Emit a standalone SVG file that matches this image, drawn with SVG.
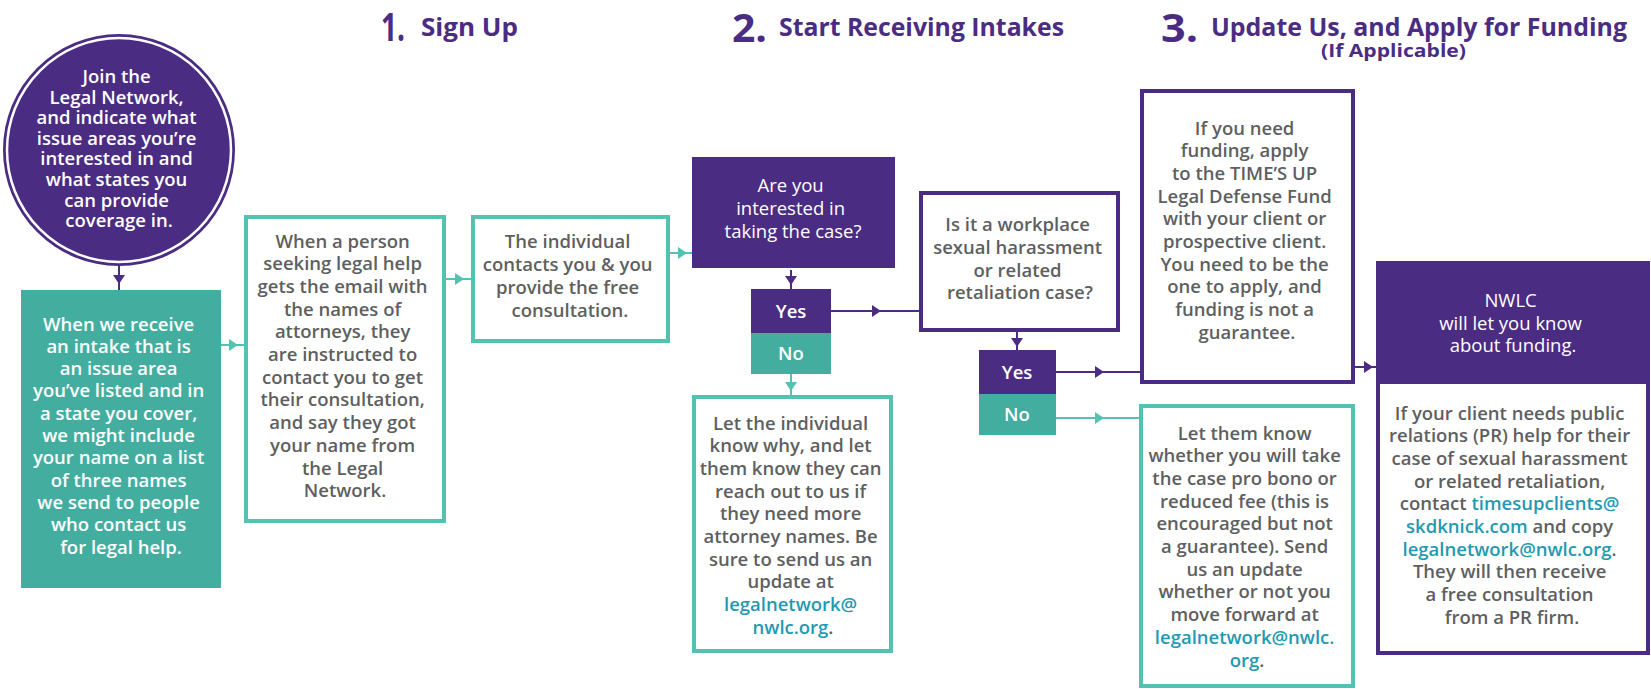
<svg xmlns="http://www.w3.org/2000/svg" xmlns:xlink="http://www.w3.org/1999/xlink" width="1651" height="689" viewBox="0 0 1651 689">
<style>
.t{font-family:'Open Sans','Liberation Sans',sans-serif;font-weight:600;font-size:18.5px;text-anchor:middle}
.r{font-weight:400}
.g{fill:#5e5f61}
.w{fill:#ffffff}
.l{fill:#1f9ab2}
.h{font-family:'Open Sans','Liberation Sans',sans-serif;font-weight:700;fill:#4b2c83}
.pf{fill:#4b2c83}
.tf{fill:#43ae9f}
.po{fill:#fff;stroke:#4b2c83;stroke-width:4}
.to{fill:#fff;stroke:#55c1b1;stroke-width:4}
.cp{stroke:#4b2c83;stroke-width:2;fill:none}
.ct{stroke:#55c1b1;stroke-width:2;fill:none}
.ap{fill:#4b2c83}
.at{fill:#55c1b1}
</style>
<defs>
<path id="ah" d="M-4,-6 L5,0 L-4,6 Z"/>
</defs>
<rect width="1651" height="689" fill="#fff"/>

<g id="headings">
<text class="h" x="381" y="41" font-size="40" textLength="24" lengthAdjust="spacingAndGlyphs">1.</text>
<text class="h" x="421" y="36" font-size="25" textLength="97" lengthAdjust="spacingAndGlyphs">Sign Up</text>
<text class="h" x="732" y="42" font-size="40" textLength="35" lengthAdjust="spacingAndGlyphs">2.</text>
<text class="h" x="779" y="36" font-size="25" textLength="285" lengthAdjust="spacingAndGlyphs">Start Receiving Intakes</text>
<text class="h" x="1161" y="42" font-size="40" textLength="37" lengthAdjust="spacingAndGlyphs">3.</text>
<text class="h" x="1211" y="36" font-size="25" textLength="416" lengthAdjust="spacingAndGlyphs">Update Us, and Apply for Funding</text>
<text class="h" x="1321" y="57" font-size="17" textLength="145" lengthAdjust="spacingAndGlyphs">(If Applicable)</text>
</g>

<g id="connectors">
<line class="cp" x1="119" y1="266" x2="119" y2="290"/>
<use xlink:href="#ah" class="ap" transform="translate(119,279) rotate(90)"/>
<line class="ct" x1="221" y1="345" x2="244" y2="345"/>
<use xlink:href="#ah" class="at" transform="translate(233,345)"/>
<line class="ct" x1="446" y1="279" x2="471" y2="279"/>
<use xlink:href="#ah" class="at" transform="translate(459,279)"/>
<line class="ct" x1="670" y1="253" x2="692" y2="253"/>
<use xlink:href="#ah" class="at" transform="translate(682,253)"/>
<line class="cp" x1="791" y1="270" x2="791" y2="289"/>
<use xlink:href="#ah" class="ap" transform="translate(791,280) rotate(90)"/>
<line class="cp" x1="831" y1="311" x2="919" y2="311"/>
<use xlink:href="#ah" class="ap" transform="translate(876,311)"/>
<line class="ct" x1="791" y1="374" x2="791" y2="395"/>
<use xlink:href="#ah" class="at" transform="translate(791,386) rotate(90)"/>
<line class="cp" x1="1017" y1="332" x2="1017" y2="350"/>
<use xlink:href="#ah" class="ap" transform="translate(1017,342) rotate(90)"/>
<line class="cp" x1="1056" y1="372" x2="1140" y2="372"/>
<use xlink:href="#ah" class="ap" transform="translate(1099,372)"/>
<line class="ct" x1="1056" y1="418" x2="1139" y2="418"/>
<use xlink:href="#ah" class="at" transform="translate(1099,418)"/>
<line class="cp" x1="1355" y1="367" x2="1376" y2="367"/>
<use xlink:href="#ah" class="ap" transform="translate(1368,367)"/>
</g>

<g id="join">
<circle cx="119" cy="150" r="116" class="pf"/>
<circle cx="119" cy="150" r="112" fill="none" stroke="#fff" stroke-width="2.5"/>
<text class="t w" font-size="17">
<tspan x="119" y="83">Join the</tspan>
<tspan x="119" y="104">Legal Network,</tspan>
<tspan x="119" y="124">and indicate what</tspan>
<tspan x="119" y="145">issue areas you’re</tspan>
<tspan x="119" y="165">interested in and</tspan>
<tspan x="119" y="186">what states you</tspan>
<tspan x="119" y="207">can provide</tspan>
<tspan x="119" y="227">coverage in.</tspan>
</text>
</g>

<g id="receive">
<rect x="21" y="290" width="200" height="298" class="tf"/>
<text class="t w">
<tspan x="121" y="330.5">When we receive</tspan>
<tspan x="121" y="352.8">an intake that is</tspan>
<tspan x="121" y="375.1">an issue area</tspan>
<tspan x="121" y="397.4">you’ve listed and in</tspan>
<tspan x="121" y="419.7">a state you cover,</tspan>
<tspan x="121" y="442">we might include</tspan>
<tspan x="121" y="464.3">your name on a list</tspan>
<tspan x="121" y="486.6">of three names</tspan>
<tspan x="121" y="508.9">we send to people</tspan>
<tspan x="121" y="531.2">who contact us</tspan>
<tspan x="121" y="553.5">for legal help.</tspan>
</text>
</g>

<g id="email">
<rect x="246" y="217" width="198" height="304" class="to"/>
<text class="t g">
<tspan x="345" y="247.5">When a person</tspan>
<tspan x="345" y="270.2">seeking legal help</tspan>
<tspan x="345" y="292.9">gets the email with</tspan>
<tspan x="345" y="315.6">the names of</tspan>
<tspan x="345" y="338.3">attorneys, they</tspan>
<tspan x="345" y="361">are instructed to</tspan>
<tspan x="345" y="383.7">contact you to get</tspan>
<tspan x="345" y="406.4">their consultation,</tspan>
<tspan x="345" y="429.1">and say they got</tspan>
<tspan x="345" y="451.8">your name from</tspan>
<tspan x="345" y="474.5">the Legal</tspan>
<tspan x="345" y="497.2">Network.</tspan>
</text>
</g>

<g id="contacts">
<rect x="473" y="217" width="195" height="124" class="to"/>
<text class="t g">
<tspan x="570" y="247.5">The individual</tspan>
<tspan x="570" y="270.5">contacts you &amp; you</tspan>
<tspan x="570" y="293.5">provide the free</tspan>
<tspan x="570" y="317">consultation.</tspan>
</text>
</g>

<g id="interested">
<rect x="692" y="157" width="203" height="111" class="pf"/>
<text class="t w r">
<tspan x="793" y="191.5">Are you</tspan>
<tspan x="793" y="214.5">interested in</tspan>
<tspan x="793" y="237.5">taking the case?</tspan>
</text>
</g>

<g id="yes1">
<rect x="751" y="289" width="80" height="44" class="pf"/>
<text class="t w" x="791" y="317.5">Yes</text>
</g>
<g id="no1">
<rect x="751" y="333" width="80" height="41" class="tf"/>
<text class="t w" x="791" y="360">No</text>
</g>

<g id="letindividual">
<rect x="694" y="397" width="197" height="254" class="to"/>
<text class="t g">
<tspan x="793" y="429.5">Let the individual</tspan>
<tspan x="793" y="452.2">know why, and let</tspan>
<tspan x="793" y="474.9">them know they can</tspan>
<tspan x="793" y="497.6">reach out to us if</tspan>
<tspan x="793" y="520.3">they need more</tspan>
<tspan x="793" y="543">attorney names. Be</tspan>
<tspan x="793" y="565.7">sure to send us an</tspan>
<tspan x="793" y="588.4">update at</tspan>
<tspan x="793" y="611.1" class="l">legalnetwork@</tspan>
<tspan x="793" y="633.8"><tspan class="l">nwlc.org</tspan>.</tspan>
</text>
</g>

<g id="workplace">
<rect x="921" y="193" width="197" height="137" class="po"/>
<text class="t g">
<tspan x="1020" y="230.5">Is it a workplace</tspan>
<tspan x="1020" y="253.5">sexual harassment</tspan>
<tspan x="1020" y="276.5">or related</tspan>
<tspan x="1020" y="298.5">retaliation case?</tspan>
</text>
</g>

<g id="yes2">
<rect x="979" y="350" width="77" height="44" class="pf"/>
<text class="t w" x="1017" y="378.5">Yes</text>
</g>
<g id="no2">
<rect x="979" y="394" width="77" height="41" class="tf"/>
<text class="t w" x="1017" y="421">No</text>
</g>

<g id="funding">
<rect x="1142" y="91" width="211" height="291" class="po"/>
<text class="t g">
<tspan x="1247" y="134.5">If you need</tspan>
<tspan x="1247" y="157.2">funding, apply</tspan>
<tspan x="1247" y="179.9">to the TIME’S UP</tspan>
<tspan x="1247" y="202.6">Legal Defense Fund</tspan>
<tspan x="1247" y="225.3">with your client or</tspan>
<tspan x="1247" y="248">prospective client.</tspan>
<tspan x="1247" y="270.7">You need to be the</tspan>
<tspan x="1247" y="293.4">one to apply, and</tspan>
<tspan x="1247" y="316.1">funding is not a</tspan>
<tspan x="1247" y="338.8">guarantee.</tspan>
</text>
</g>

<g id="letthem">
<rect x="1141" y="406" width="212" height="280" class="to"/>
<text class="t g">
<tspan x="1247" y="439.5">Let them know</tspan>
<tspan x="1247" y="462.2">whether you will take</tspan>
<tspan x="1247" y="484.9">the case pro bono or</tspan>
<tspan x="1247" y="507.6">reduced fee (this is</tspan>
<tspan x="1247" y="530.3">encouraged but not</tspan>
<tspan x="1247" y="553">a guarantee). Send</tspan>
<tspan x="1247" y="575.7">us an update</tspan>
<tspan x="1247" y="598.4">whether or not you</tspan>
<tspan x="1247" y="621.1">move forward at</tspan>
<tspan x="1247" y="643.8" class="l">legalnetwork@nwlc.</tspan>
<tspan x="1247" y="666.5"><tspan class="l">org</tspan>.</tspan>
</text>
</g>

<g id="nwlc">
<rect x="1378" y="263" width="270" height="390" class="po"/>
<rect x="1376" y="261" width="274" height="123" class="pf"/>
<text class="t w r">
<tspan x="1513" y="306.5">NWLC</tspan>
<tspan x="1513" y="329.5">will let you know</tspan>
<tspan x="1513" y="351.5">about funding.</tspan>
</text>
<text class="t g">
<tspan x="1512" y="419.5">If your client needs public</tspan>
<tspan x="1512" y="442.2">relations (PR) help for their</tspan>
<tspan x="1512" y="464.9">case of sexual harassment</tspan>
<tspan x="1512" y="487.6">or related retaliation,</tspan>
<tspan x="1512" y="510.3">contact <tspan class="l">timesupclients@</tspan></tspan>
<tspan x="1512" y="533"><tspan class="l">skdknick.com</tspan> and copy</tspan>
<tspan x="1512" y="555.7"><tspan class="l">legalnetwork@nwlc.org</tspan>.</tspan>
<tspan x="1512" y="578.4">They will then receive</tspan>
<tspan x="1512" y="601.1">a free consultation</tspan>
<tspan x="1512" y="623.8">from a PR firm.</tspan>
</text>
</g>
</svg>
